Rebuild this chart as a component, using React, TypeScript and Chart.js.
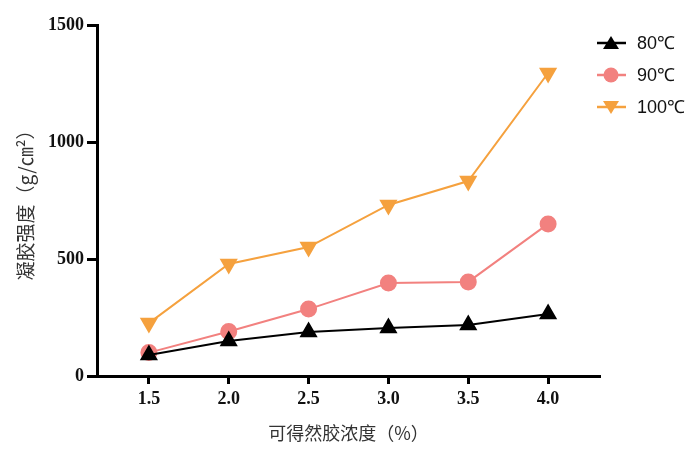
import { useEffect, useRef } from 'react'
import { Chart, registerables, ChartConfiguration, Plugin } from 'chart.js'

Chart.register(...registerables)

const concentrations = [1.5, 2.0, 2.5, 3.0, 3.5, 4.0]
const strength80 = [90, 150, 188, 205, 218, 265]
const strength90 = [100, 190, 286, 397, 402, 650]
const strength100 = [226, 479, 551, 731, 833, 1295]
const yTicks = [0, 500, 1000, 1500]

const seriesNames = ['80℃', '90℃', '100℃']
const seriesColors = ['#000000', '#F2817F', '#F5A13E']

const toPoints = (ys: number[]) => concentrations.map((x, i) => ({ x, y: ys[i] }))

// legend with a short line through each marker, drawn on the canvas
const sideLegend: Plugin<'line'> = {
  id: 'sideLegend',
  afterDraw(chart) {
    const ctx = chart.ctx
    ctx.save()
    chart.data.datasets.forEach((ds: any, i) => {
      const y = 43 + i * 32
      ctx.strokeStyle = ds.borderColor
      ctx.lineWidth = 2.5
      ctx.beginPath()
      ctx.moveTo(597, y)
      ctx.lineTo(626, y)
      ctx.stroke()
      ctx.fillStyle = ds.backgroundColor
      ctx.beginPath()
      if (ds.pointStyle === 'circle') {
        ctx.arc(611, y, 7.5, 0, Math.PI * 2)
      } else if (ds.pointRotation === 180) {
        ctx.moveTo(603, y - 6)
        ctx.lineTo(619, y - 6)
        ctx.lineTo(611, y + 7)
      } else {
        ctx.moveTo(603, y + 6)
        ctx.lineTo(619, y + 6)
        ctx.lineTo(611, y - 7)
      }
      ctx.closePath()
      ctx.fill()
      ctx.fillStyle = '#111'
      ctx.font = '18px "Liberation Sans", Arial, sans-serif'
      ctx.textBaseline = 'middle'
      ctx.textAlign = 'left'
      ctx.fillText(seriesNames[i], 637, y + 1)
    })
    ctx.restore()
  },
}

export default function App() {
  const canvasRef = useRef<HTMLCanvasElement>(null)

  useEffect(() => {
    if (!canvasRef.current) return
    document.body.style.margin = '0'

    const tickFont = { family: '"Liberation Serif", "Times New Roman", serif', size: 18, weight: 'bold' as const }

    const config: ChartConfiguration<'line'> = {
      type: 'line',
      data: {
        datasets: [
          {
            label: seriesNames[0],
            data: toPoints(strength80),
            borderColor: seriesColors[0],
            backgroundColor: seriesColors[0],
            pointStyle: 'triangle',
            pointRadius: 8.5,
            borderWidth: 2,
          },
          {
            label: seriesNames[1],
            data: toPoints(strength90),
            borderColor: seriesColors[1],
            backgroundColor: seriesColors[1],
            pointStyle: 'circle',
            pointRadius: 7.5,
            borderWidth: 2,
          },
          {
            label: seriesNames[2],
            data: toPoints(strength100),
            borderColor: seriesColors[2],
            backgroundColor: seriesColors[2],
            pointStyle: 'triangle',
            pointRotation: 180,
            pointRadius: 8.5,
            borderWidth: 2,
          },
        ],
      },
      options: {
        responsive: false,
        animation: false,
        layout: { padding: { top: 25, right: 100, left: 0, bottom: 0 } },
        plugins: { legend: { display: false }, tooltip: { enabled: false } },
        scales: {
          x: {
            type: 'linear',
            min: 1.175,
            max: 4.325,
            afterBuildTicks: (scale) => {
              scale.ticks = concentrations.map((v) => ({ value: v }))
            },
            afterFit: (scale) => {
              scale.height = 80
            },
            border: { display: true, color: '#000', width: 3 },
            grid: { display: true, drawOnChartArea: false, tickLength: 8, tickWidth: 3, tickColor: '#000' },
            ticks: {
              color: '#111',
              font: tickFont,
              padding: 5,
              maxRotation: 0,
              callback: (v) => Number(v).toFixed(1),
            },
            title: {
              display: true,
              text: '可得然胶浓度（%）',
              color: '#333',
              font: { family: '"Noto Sans CJK SC", sans-serif', size: 18 },
              padding: { top: 0, bottom: 12 },
            },
          },
          y: {
            type: 'linear',
            min: 0,
            max: 1500,
            afterBuildTicks: (scale) => {
              scale.ticks = yTicks.map((v) => ({ value: v }))
            },
            afterFit: (scale) => {
              scale.width = 97
            },
            border: { display: true, color: '#000', width: 3 },
            grid: { display: true, drawOnChartArea: false, tickLength: 10, tickWidth: 3, tickColor: '#000' },
            ticks: { color: '#111', font: tickFont, padding: 3, callback: (v) => String(v) },
            title: {
              display: true,
              text: '凝胶强度（g/㎝²）',
              color: '#333',
              font: { family: '"Noto Sans CJK SC", sans-serif', size: 19 },
              padding: { top: 14, bottom: 0 },
            },
          },
        },
      },
      plugins: [sideLegend],
    }

    const chart = new Chart(canvasRef.current, config)
    return () => chart.destroy()
  }, [])

  return (
    <div style={{ width: 700, height: 456, background: '#fff' }}>
      <canvas ref={canvasRef} width={700} height={456}></canvas>
    </div>
  )
}
